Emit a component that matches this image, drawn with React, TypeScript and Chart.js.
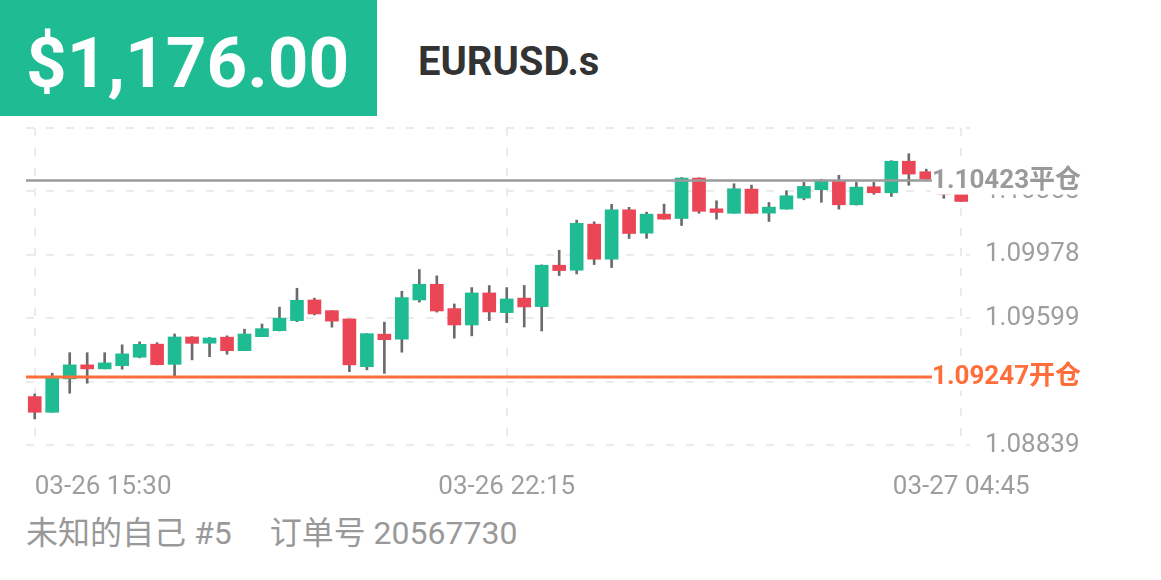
import React, { useEffect, useRef } from 'react';
import { Chart, registerables } from 'chart.js';

Chart.register(...registerables);

const FONT = 'Roboto, "Noto Sans CJK SC", sans-serif';

const categories = [
  '03-26 15:30', '03-26 15:45', '03-26 16:00', '03-26 16:15', '03-26 16:30', '03-26 16:45',
  '03-26 17:00', '03-26 17:15', '03-26 17:30', '03-26 17:45', '03-26 18:00', '03-26 18:15',
  '03-26 18:30', '03-26 18:45', '03-26 19:00', '03-26 19:15', '03-26 19:30', '03-26 19:45',
  '03-26 20:00', '03-26 20:15', '03-26 20:30', '03-26 20:45', '03-26 21:00', '03-26 21:15',
  '03-26 21:30', '03-26 21:45', '03-26 22:00', '03-26 22:15', '03-26 22:30', '03-26 22:45',
  '03-26 23:00', '03-26 23:15', '03-26 23:30', '03-26 23:45', '03-27 00:00', '03-27 00:15',
  '03-27 00:30', '03-27 00:45', '03-27 01:00', '03-27 01:15', '03-27 01:30', '03-27 01:45',
  '03-27 02:00', '03-27 02:15', '03-27 02:30', '03-27 02:45', '03-27 03:00', '03-27 03:15',
  '03-27 03:30', '03-27 03:45', '03-27 04:00', '03-27 04:15', '03-27 04:30', '03-27 04:45',
];

const opens = [
  1.09129, 1.09035, 1.09235, 1.09319, 1.09295, 1.09314, 1.09365, 1.09443, 1.09322, 1.09486,
  1.09449, 1.09485, 1.09404, 1.09488, 1.09524, 1.09584, 1.09708, 1.09644, 1.09594, 1.09308,
  1.09503, 1.09473, 1.09708, 1.09802, 1.09656, 1.09558, 1.09750, 1.09632, 1.09719, 1.09668,
  1.09916, 1.09886, 1.10162, 1.09952, 1.10248, 1.10108, 1.10222, 1.10196, 1.10438, 1.10254,
  1.10227, 1.10372, 1.10228, 1.10252, 1.10318, 1.10368, 1.10418, 1.10278, 1.10386, 1.10350,
  1.10539, 1.10476, 1.10404, 1.10350,
];

const highs = [
  1.09145, 1.09269, 1.09392, 1.09392, 1.09392, 1.09439, 1.09457, 1.09452, 1.09504, 1.09488,
  1.09483, 1.09493, 1.09533, 1.09564, 1.09665, 1.09778, 1.09719, 1.09644, 1.09594, 1.09506,
  1.09575, 1.09760, 1.09890, 1.09852, 1.09684, 1.09782, 1.09794, 1.09782, 1.09795, 1.09918,
  1.10006, 1.10186, 1.10176, 1.10281, 1.10263, 1.10234, 1.10282, 1.10441, 1.10440, 1.10302,
  1.10404, 1.10396, 1.10292, 1.10362, 1.10412, 1.10431, 1.10455, 1.10412, 1.10412, 1.10542,
  1.10584, 1.10491, 1.10422, 1.10350,
];

const lows = [
  1.08995, 1.09035, 1.09149, 1.09209, 1.09295, 1.09293, 1.09361, 1.09319, 1.09251, 1.09349,
  1.09368, 1.09383, 1.09404, 1.09488, 1.09522, 1.09578, 1.09618, 1.09545, 1.09278, 1.09289,
  1.09268, 1.09395, 1.09695, 1.09635, 1.09479, 1.09493, 1.09584, 1.09572, 1.09546, 1.09522,
  1.09854, 1.09864, 1.09920, 1.09902, 1.10076, 1.10077, 1.10192, 1.10154, 1.10227, 1.10192,
  1.10227, 1.10227, 1.10178, 1.10252, 1.10308, 1.10293, 1.10252, 1.10276, 1.10341, 1.10328,
  1.10395, 1.10431, 1.10317, 1.10298,
];

const closes = [
  1.09035, 1.09239, 1.09319, 1.09295, 1.09331, 1.09385, 1.09442, 1.09320, 1.09486, 1.09448,
  1.09480, 1.09404, 1.09504, 1.09536, 1.09599, 1.09706, 1.09624, 1.09581, 1.09319, 1.09506,
  1.09470, 1.09722, 1.09802, 1.09642, 1.09558, 1.09750, 1.09636, 1.09714, 1.09666, 1.09916,
  1.09884, 1.10167, 1.09952, 1.10248, 1.10106, 1.10222, 1.10192, 1.10438, 1.10239, 1.10232,
  1.10374, 1.10227, 1.10264, 1.10332, 1.10388, 1.10422, 1.10278, 1.10384, 1.10350, 1.10539,
  1.10462, 1.10432, 1.10341, 1.10298,
];

const yMin = 1.08839;
const yMax = 1.10738;
const yTickValues = [1.08839, 1.09219, 1.09599, 1.09978, 1.10358, 1.10738];
const yTickLabels = ['1.08839', '1.09219', '1.09599', '1.09978', '1.10358', ''];
const xTickIndex = [0, 27, 53];

const refValues = [1.10423, 1.09247];
const refLabels = ['1.10423平仓', '1.09247开仓'];
const refColors = ['#9a9a9a', '#ff6d3a'];
const refWidths = [2.5, 3];

const GREEN = '#1fbb93';
const RED = '#ea4656';
const WICK = '#6b6b6b';
const GRID = '#ebebeb';
const TICK_TEXT = '#9e9e9e';

const priceText = '$1,176.00';
const symbolText = 'EURUSD.s';
const accountText = '未知的自己 #5';
const orderText = '订单号 20567730';

const overlayPlugin = {
  id: 'overlay',
  afterDatasetsDraw(chart: any) {
    const { ctx, chartArea, scales } = chart;
    const y = scales.y;
    const x = scales.x;
    ctx.save();
    ctx.font = `26px ${FONT}`;
    ctx.fillStyle = TICK_TEXT;
    ctx.textBaseline = 'middle';
    ctx.textAlign = 'left';
    xTickIndex.forEach((idx) => {
      const label = categories[idx];
      const px = x.getPixelForValue(idx);
      const w = ctx.measureText(label).width;
      let left = px - w / 2;
      if (left < chartArea.left) left = px;
      ctx.fillText(label, left, chartArea.bottom + 42);
    });
    ctx.font = `bold 26px ${FONT}`;
    refValues.forEach((v, i) => {
      const py = y.getPixelForValue(v);
      const tx = chartArea.right - 38;
      const w = ctx.measureText(refLabels[i]).width;
      ctx.fillStyle = '#ffffff';
      ctx.fillRect(tx - 1, py - 14, w + 6, 28);
      ctx.strokeStyle = refColors[i];
      ctx.lineWidth = refWidths[i];
      ctx.setLineDash([]);
      ctx.beginPath();
      ctx.moveTo(chartArea.left, py);
      ctx.lineTo(tx, py);
      ctx.stroke();
      ctx.fillStyle = refColors[i];
      ctx.fillText(refLabels[i], tx, py + 1);
    });
    ctx.restore();
  },
};

export default function App() {
  const canvasRef = useRef<HTMLCanvasElement | null>(null);

  useEffect(() => {
    const canvas = canvasRef.current;
    if (!canvas) return;
    const chart = new Chart(canvas, {
      type: 'bar',
      data: {
        labels: categories,
        datasets: [
          {
            label: 'body',
            data: opens.map((o, i) => [o, closes[i]]) as any,
            backgroundColor: opens.map((o, i) => (closes[i] >= o ? GREEN : RED)),
            barThickness: 13,
            grouped: false,
            order: 0,
            borderWidth: 0,
            borderSkipped: false,
          } as any,
          {
            label: 'wick',
            data: lows.map((l, i) => [l, highs[i]]) as any,
            backgroundColor: WICK,
            barThickness: 2,
            grouped: false,
            order: 1,
            borderWidth: 0,
          } as any,
        ],
      },
      options: {
        responsive: false,
        animation: false,
        layout: { padding: { left: 26, right: 0, top: 8, bottom: 65 }, autoPadding: false } as any,
        plugins: { legend: { display: false }, tooltip: { enabled: false } },
        scales: {
          x: {
            type: 'category',
            offset: true,
            grid: { offset: false, color: GRID, lineWidth: 2, drawTicks: false },
            border: { display: false, dash: [8, 12] },
            ticks: { display: false },
            afterBuildTicks: (s: any) => {
              s.ticks = xTickIndex.map((v) => ({ value: v }));
            },
            afterFit: (s: any) => {
              s.height = 0;
            },
          } as any,
          y: {
            position: 'right',
            min: yMin,
            max: yMax,
            grid: { color: GRID, lineWidth: 2, drawTicks: false },
            border: { display: false, dash: [8, 12] },
            ticks: {
              padding: 15,
              crossAlign: 'near',
              color: TICK_TEXT,
              font: { size: 26, family: FONT, lineHeight: 0.05 },
              callback: (_v: any, i: number) => yTickLabels[i],
            },
            afterBuildTicks: (s: any) => {
              s.ticks = yTickValues.map((v) => ({ value: v }));
            },
            afterFit: (s: any) => {
              s.width = 191;
              s.paddingTop = 0;
              s.paddingBottom = 0;
            },
          } as any,
        },
      },
      plugins: [overlayPlugin],
    });
    return () => chart.destroy();
  }, []);

  return (
    <div
      style={{
        position: 'absolute',
        left: 0,
        top: 0,
        width: 1161,
        height: 580,
        background: '#ffffff',
        fontFamily: FONT,
        overflow: 'hidden',
      }}
    >
      <div style={{ position: 'absolute', left: 0, top: 0, width: 377, height: 116, background: GREEN }} />
      <div
        style={{
          position: 'absolute',
          left: 26,
          top: 27,
          fontSize: 71,
          lineHeight: '71px',
          color: '#ffffff',
          fontWeight: 700,
          whiteSpace: 'nowrap',
        }}
      >
        {priceText}
      </div>
      <div
        style={{
          position: 'absolute',
          left: 418,
          top: 42,
          fontSize: 40,
          lineHeight: '40px',
          color: '#333333',
          fontWeight: 700,
          whiteSpace: 'nowrap',
        }}
      >
        {symbolText}
      </div>
      <canvas
        ref={canvasRef}
        width={1161}
        height={390}
        style={{ position: 'absolute', left: 0, top: 120, width: 1161, height: 390, display: 'block' }}
      />
      <div
        style={{
          position: 'absolute',
          left: 26,
          top: 517,
          fontSize: 32,
          lineHeight: '32px',
          color: '#999999',
          whiteSpace: 'nowrap',
        }}
      >
        <span>{accountText}</span>
        <span style={{ marginLeft: 38 }}>{orderText}</span>
      </div>
    </div>
  );
}
